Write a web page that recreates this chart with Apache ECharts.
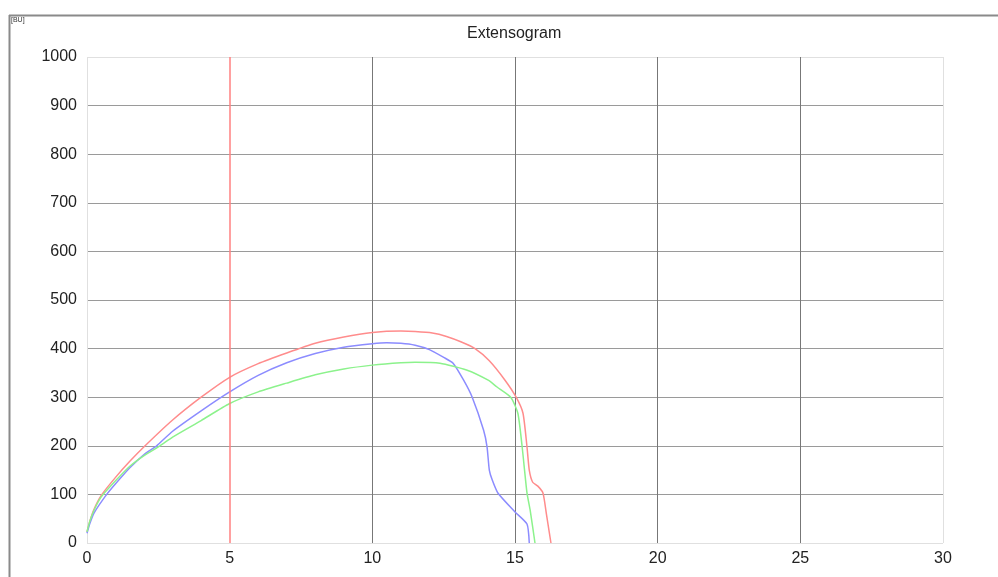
<!DOCTYPE html>
<html>
<head>
<meta charset="utf-8">
<script src="https://cdn.jsdelivr.net/npm/echarts@6/dist/echarts.min.js"></script>
<style>html,body{margin:0;padding:0;background:#fff}#c{width:998px;height:577px}</style>
</head>
<body>
<div id="c"></div>
<script>
var titleText = 'Extensogram';
var unitLabel = '[BU]';
var markerX = 5;
var redX = [0,0.1,0.25,0.5,1,1.5,2,3,4,5,6,7,8,9,10,11,11.5,12.1,12.6,13.1,13.6,14.1,14.65,15.04,15.28,15.42,15.5,15.62,15.8,15.98,16.1,16.26];
var redY = [23,45,70,98,135,168,198,253,300,341,369,391,411,424,433,436,435,432,425,414,400,375,335,300,267,198,150,125,117,103,60,0];
var blueX = [0,0.1,0.25,0.69,1,1.5,2,2.44,3,4,5,6,7,8,9,10,10.5,11,11.5,12,12.5,12.83,13.2,13.5,13.9,14.02,14.1,14.2,14.4,15.0,15.42,15.5];
var blueY = [20,40,62,100,122,155,182,200,230,272,311,345,371,390,403,410,412,411,407,398,382,370,335,300,232,198,150,130,103,64,39,0];
var greenX = [0,0.1,0.25,0.5,1,1.5,2,2.56,3,4,5,6,7,8,9,10,11,11.5,12.37,13.3,14.06,14.37,14.85,15.1,15.25,15.42,15.53,15.7];
var greenY = [23,45,68,95,128,158,180,200,218,252,287,311,329,346,358,366,371,372,370,356,335,321,300,267,198,103,68,0];
var xTicks = [0,5,10,15,20,25,30];
var yTicks = [0,100,200,300,400,500,600,700,800,900,1000];

function pairs(xs, ys){ return xs.map(function(x,i){ return [x, ys[i]]; }); }

var xSplitColors = xTicks.map(function(v,i){ return (i===0||i===xTicks.length-1)?'#e0e0e0':(v===markerX?'rgba(0,0,0,0)':'#777'); });
var ySplitColors = yTicks.map(function(v,i){ return (i===0||i===yTicks.length-1)?'#e0e0e0':'#9a9a9a'; });

var chart = echarts.init(document.getElementById('c'), null, {renderer:'canvas'});
chart.setOption({
  animation:false,
  backgroundColor:'#fff',
  title:{text:titleText, left:462, top:21, textStyle:{fontFamily:'Liberation Sans, Arial', fontSize:16, fontWeight:'normal', color:'#222'}},
  grid:{left:87, right:55, top:57, bottom:34, containLabel:false},
  xAxis:{type:'value', min:0, max:30, interval:5,
    axisLine:{show:false}, axisTick:{show:false},
    axisLabel:{fontFamily:'Liberation Sans, Arial', fontSize:16, color:'#222', margin:8, formatter:function(v){return String(v);}},
    splitLine:{show:true, lineStyle:{color:xSplitColors, width:1}}},
  yAxis:{type:'value', min:0, max:1000, interval:100,
    axisLine:{show:false}, axisTick:{show:false},
    axisLabel:{fontFamily:'Liberation Sans, Arial', fontSize:16, color:'#222', margin:10, formatter:function(v){return String(v);}},
    splitLine:{show:true, lineStyle:{color:ySplitColors, width:1}}},
  graphic:[
    {type:'line', shape:{x1:9, y1:15.5, x2:998, y2:15.5}, style:{stroke:'#8a8a8a', lineWidth:2}},
    {type:'line', shape:{x1:9.5, y1:15, x2:9.5, y2:577}, style:{stroke:'#8a8a8a', lineWidth:2}},
    {type:'text', left:11, top:17, style:{text:unitLabel, fontSize:7, fontFamily:'Liberation Sans, Arial', fill:'#333'}}
  ],
  series:[
    {type:'line', name:'red', data:pairs(redX, redY), showSymbol:false, symbol:'none', smooth:0.2, lineStyle:{color:'#ff8c8c', width:1.5}, z:3,
      markLine:{silent:true, symbol:'none', label:{show:false}, lineStyle:{color:'#ff8080', type:'solid', width:1.5}, data:[{xAxis:markerX}]}},
    {type:'line', name:'blue', data:pairs(blueX, blueY), showSymbol:false, symbol:'none', smooth:0.2, lineStyle:{color:'#8c8cff', width:1.5}, z:3},
    {type:'line', name:'green', data:pairs(greenX, greenY), showSymbol:false, symbol:'none', smooth:0.2, lineStyle:{color:'#8cf28c', width:1.5}, z:3}
  ]
});
</script>
</body>
</html>
